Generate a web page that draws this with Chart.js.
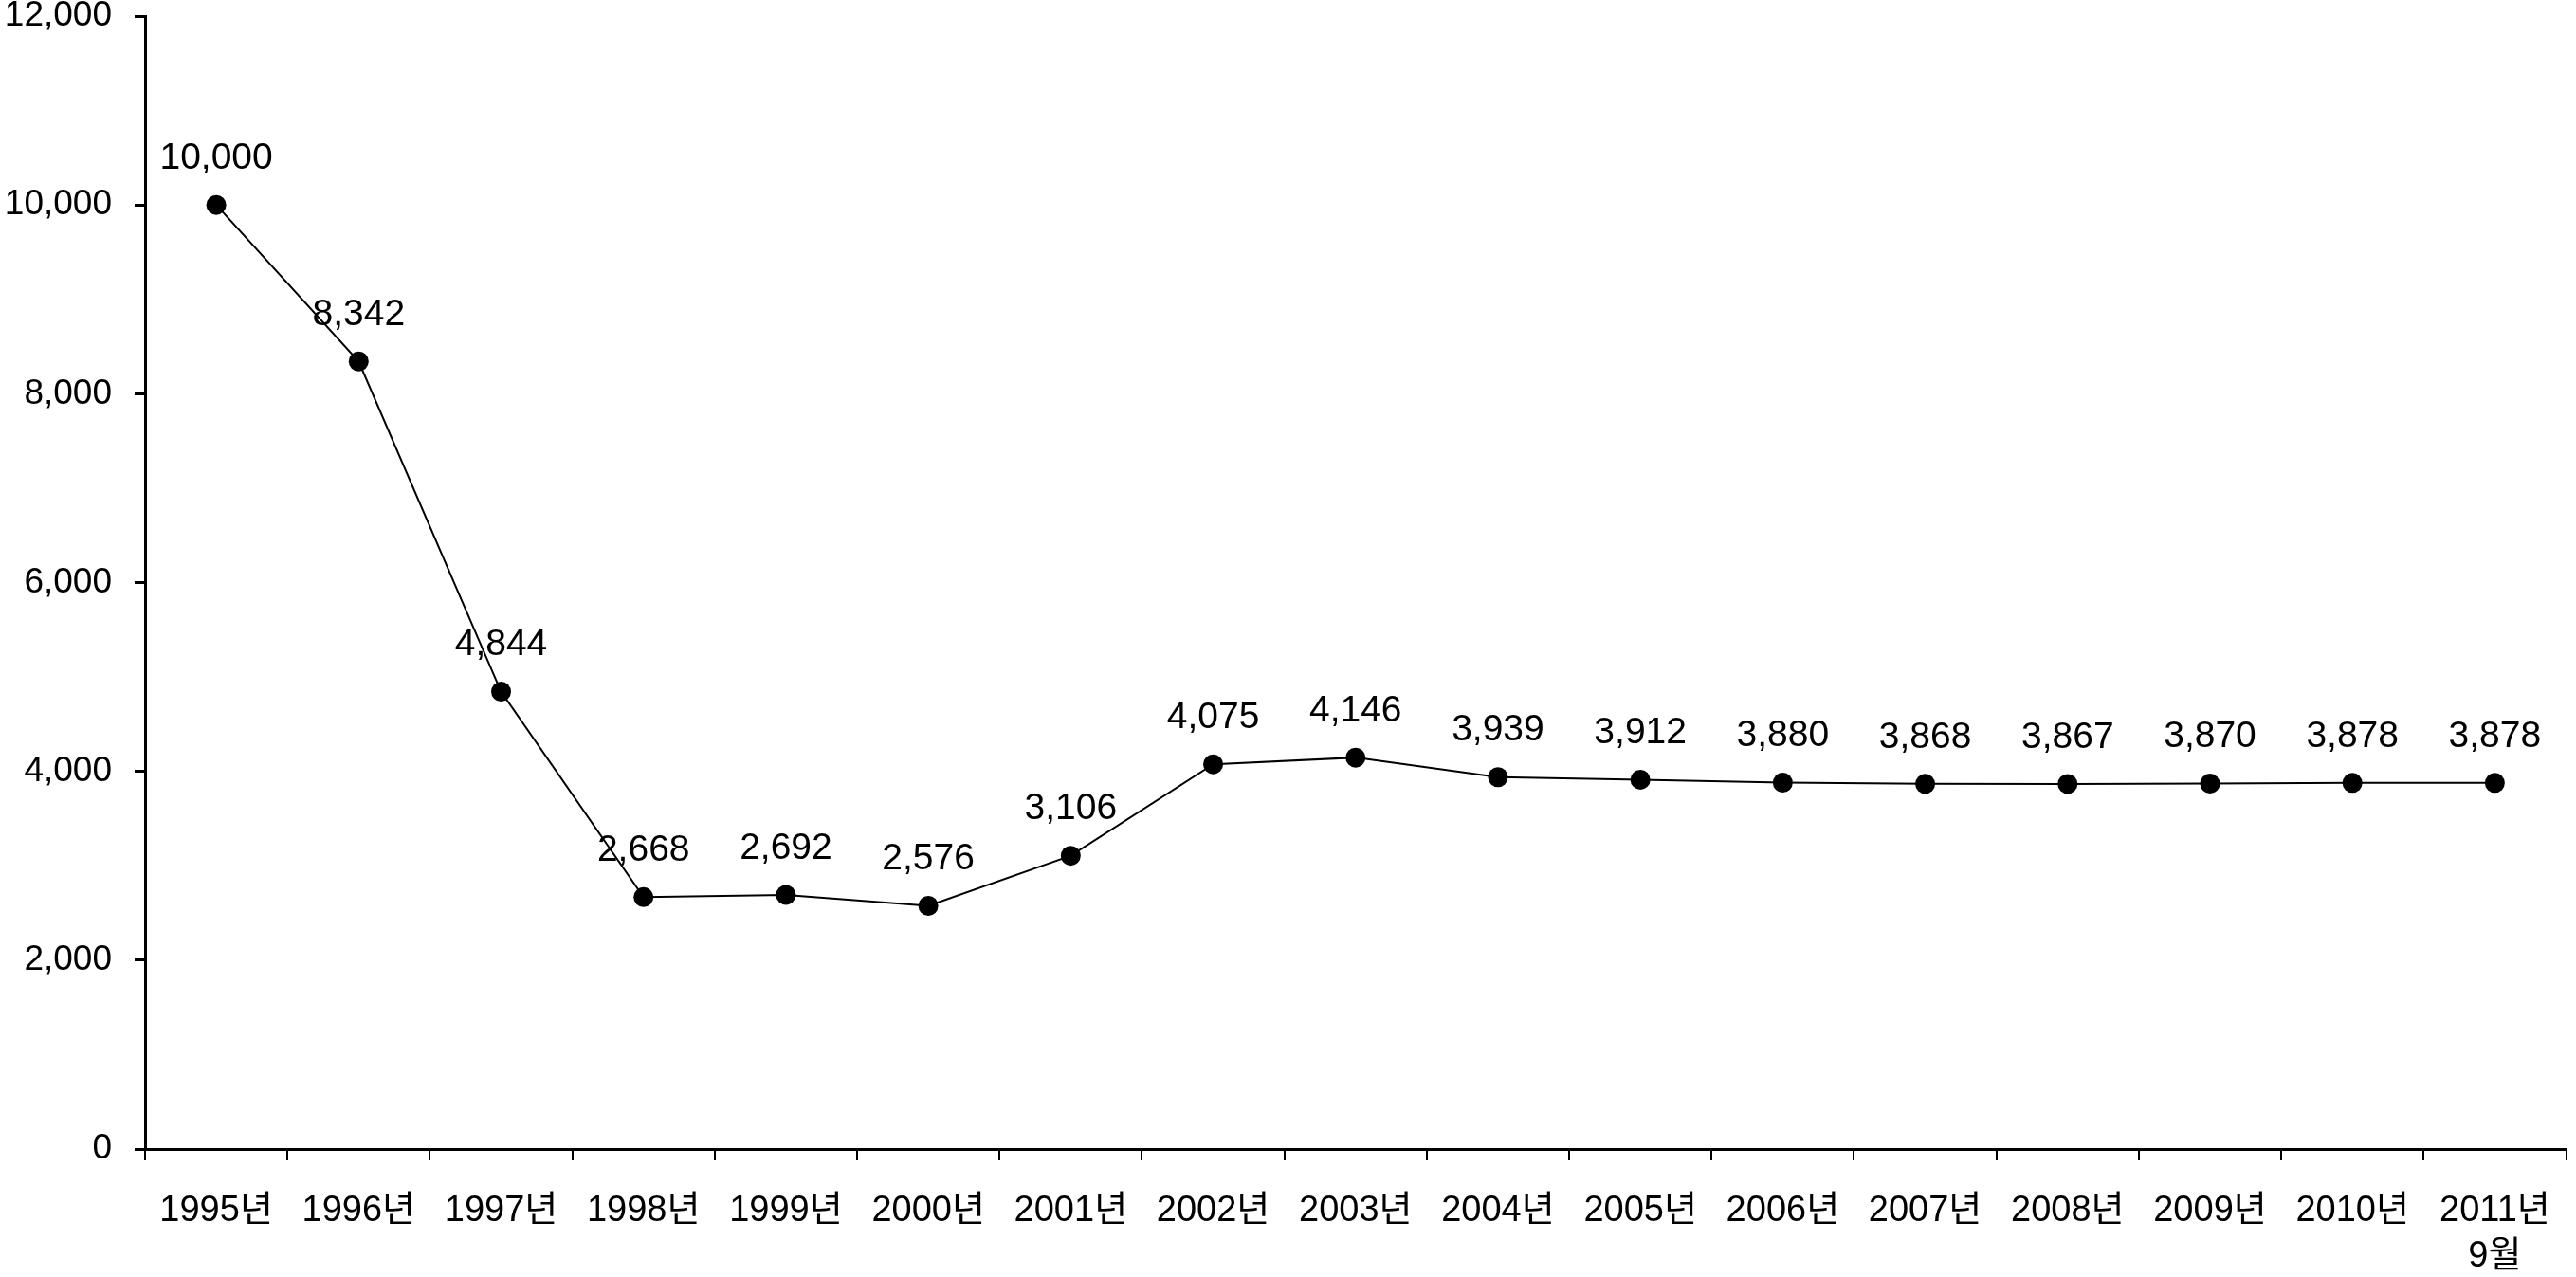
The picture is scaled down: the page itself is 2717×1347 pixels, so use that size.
<!DOCTYPE html>
<html>
<head>
<meta charset="utf-8">
<script src="https://cdn.jsdelivr.net/npm/chart.js@4.4.1/dist/chart.umd.min.js"></script>
<style>
html, body { margin: 0; padding: 0; background: #fff; }
#wrap { width: 2717px; height: 1347px; }
</style>
</head>
<body>
<div id="wrap"><canvas id="myChart" width="2717" height="1347"></canvas></div>
<script>
const years = ["1995년","1996년","1997년","1998년","1999년","2000년","2001년","2002년","2003년",
    "2004년","2005년","2006년","2007년","2008년","2009년","2010년",["2011년","9월"]];
const values = [10000,8342,4844,2668,2692,2576,3106,4075,4146,3939,3912,3880,3868,3867,3870,3878,3878];
const yTicks = [0,2000,4000,6000,8000,10000,12000];

const fontFam = '"Liberation Sans", "Noto Sans CJK KR", sans-serif';

// draws the number above each point
const pointLabels = {
    id: 'pointLabels',
    afterDatasetsDraw(chart){
        const ctx = chart.ctx;
        const meta = chart.getDatasetMeta(0);
        ctx.save();
        ctx.font = '39px ' + fontFam;
        ctx.fillStyle = '#000';
        ctx.textAlign = 'center';
        ctx.textBaseline = 'middle';
        meta.data.forEach((pt, i) => {
            ctx.fillText(values[i].toLocaleString('en-US'), pt.x, pt.y - 49);
        });
        ctx.restore();
    }
};

const conf = {
    type: "line",
    data: {
        labels: years,
        datasets: [{
            data: values,
            borderColor: "#000",
            borderWidth: 2,
            backgroundColor: "#000",
            pointRadius: 10.5,
            pointHoverRadius: 10.5,
            pointBackgroundColor: "#000",
            pointBorderWidth: 0,
            tension: 0
        }]
    },
    options: {
        responsive: false,
        animation: false,
        layout: { padding: { top: 17, right: 8, left: 0, bottom: 0 } },
        plugins: {
            legend: { display: false },
            tooltip: { enabled: false }
        },
        scales: {
            x: {
                offset: true,
                border: { display: true, color: "#000", width: 3 },
                grid: { drawOnChartArea: false, drawTicks: true, tickLength: 12, offset: true, color: "#000", lineWidth: 2 },
                ticks: {
                    color: "#000",
                    padding: 30,
                    maxRotation: 0,
                    autoSkip: false,
                    font: { family: fontFam, size: 38, lineHeight: 1.25 }
                },
                afterFit(scale){ scale.height = 135; scale.paddingLeft = 0; scale.paddingRight = 0; }
            },
            y: {
                min: 0,
                max: 12000,
                afterBuildTicks(scale){ scale.ticks = yTicks.map(v => ({value: v})); },
                border: { display: true, color: "#000", width: 3 },
                grid: { drawOnChartArea: false, drawTicks: true, tickLength: 11, color: "#000", lineWidth: 3 },
                ticks: {
                    color: "#000",
                    padding: 24,
                    font: { family: fontFam, size: 37 },
                    callback: v => v.toLocaleString('en-US')
                },
                afterFit(scale){ scale.width = 153; scale.paddingTop = 0; scale.paddingBottom = 0; }
            }
        }
    },
    plugins: [pointLabels]
};

const myChart = new Chart(document.getElementById("myChart"), conf);
</script>
</body>
</html>
